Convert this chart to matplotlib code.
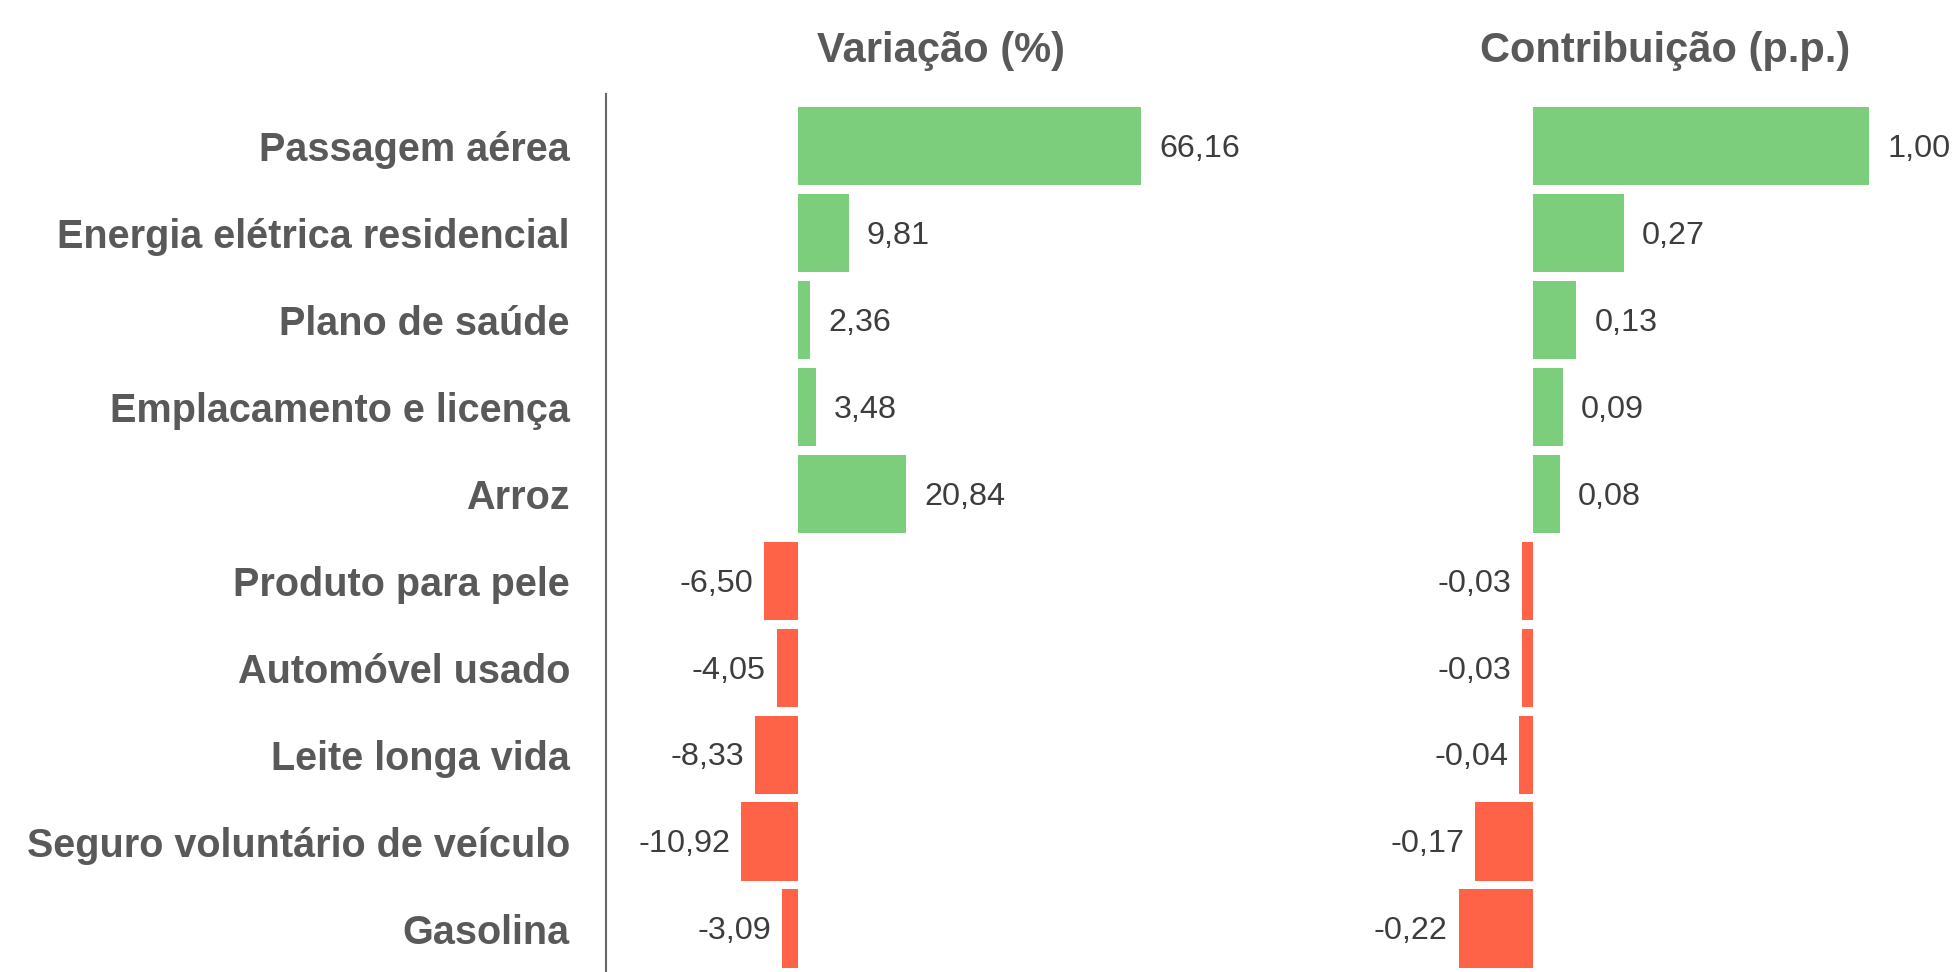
import matplotlib
matplotlib.use("Agg")
import matplotlib.pyplot as plt

categorias = ["Passagem aérea", "Energia elétrica residencial", "Plano de saúde",
              "Emplacamento e licença", "Arroz", "Produto para pele",
              "Automóvel usado", "Leite longa vida",
              "Seguro voluntário de veículo", "Gasolina"]
variacao = [66.16, 9.81, 2.36, 3.48, 20.84, -6.50, -4.05, -8.33, -10.92, -3.09]
contribuicao = [1.00, 0.27, 0.13, 0.09, 0.08, -0.03, -0.03, -0.04, -0.17, -0.22]

VERDE, VERMELHO = "#7CCD7C", "#FF6347"
CINZA_ROT, CINZA_VAL = "#595959", "#3d3d3d"
plt.rcParams["font.family"] = ["Liberation Sans", "DejaVu Sans"]

W, H = 1955, 972
fig = plt.figure(figsize=(W / 100, H / 100), dpi=100)


def fmt(v):
    return f"{v:.2f}".replace(".", ",")


def painel(px0, px1, zero_px, escala, valores, rotulos=False):
    # px -> limites em dados (zero e escala)
    xmin = -(zero_px - px0) / escala
    xmax = (px1 - zero_px) / escala
    ax = fig.add_axes([px0 / W, 0.0, (px1 - px0) / W, 1 - 94 / H])
    y = list(range(len(valores)))
    cores = [VERDE if v >= 0 else VERMELHO for v in valores]
    ax.barh(y, valores, height=0.9, color=cores)
    ax.set_xlim(xmin, xmax)
    ax.set_ylim(9.5, -0.6)
    for yi, v in zip(y, valores):
        off = 13 if v >= 0 else -8
        ax.annotate(fmt(v), (v, yi), xytext=(off, -2), textcoords="offset points",
                    ha="left" if v >= 0 else "right", va="center",
                    fontsize=23.3, color=CINZA_VAL)
    for s in ["top", "right", "bottom"]:
        ax.spines[s].set_visible(False)
    ax.set_xticks([])
    if rotulos:
        ax.spines["left"].set_color("#666666")
        ax.spines["left"].set_linewidth(1.5)
        ax.set_yticks(y)
        ax.set_yticklabels(categorias, fontsize=28.5, fontweight="bold", color=CINZA_ROT)
        ax.tick_params(axis="y", length=0, pad=26)
    else:
        ax.spines["left"].set_visible(False)
        ax.set_yticks([])
    ax.patch.set_alpha(0)
    return ax


painel(606, 1250, 798, 5.184, variacao, rotulos=True)
painel(1260, 1955, 1532.6, 336.7, contribuicao)

fig.text(941 / W, 1 - 51 / H, "Variação (%)", ha="center", va="center",
         fontsize=30, fontweight="bold", color=CINZA_ROT)
fig.text(1665 / W, 1 - 51 / H, "Contribuição (p.p.)", ha="center", va="center",
         fontsize=30, fontweight="bold", color=CINZA_ROT)

fig.savefig("out.png", dpi=100)
